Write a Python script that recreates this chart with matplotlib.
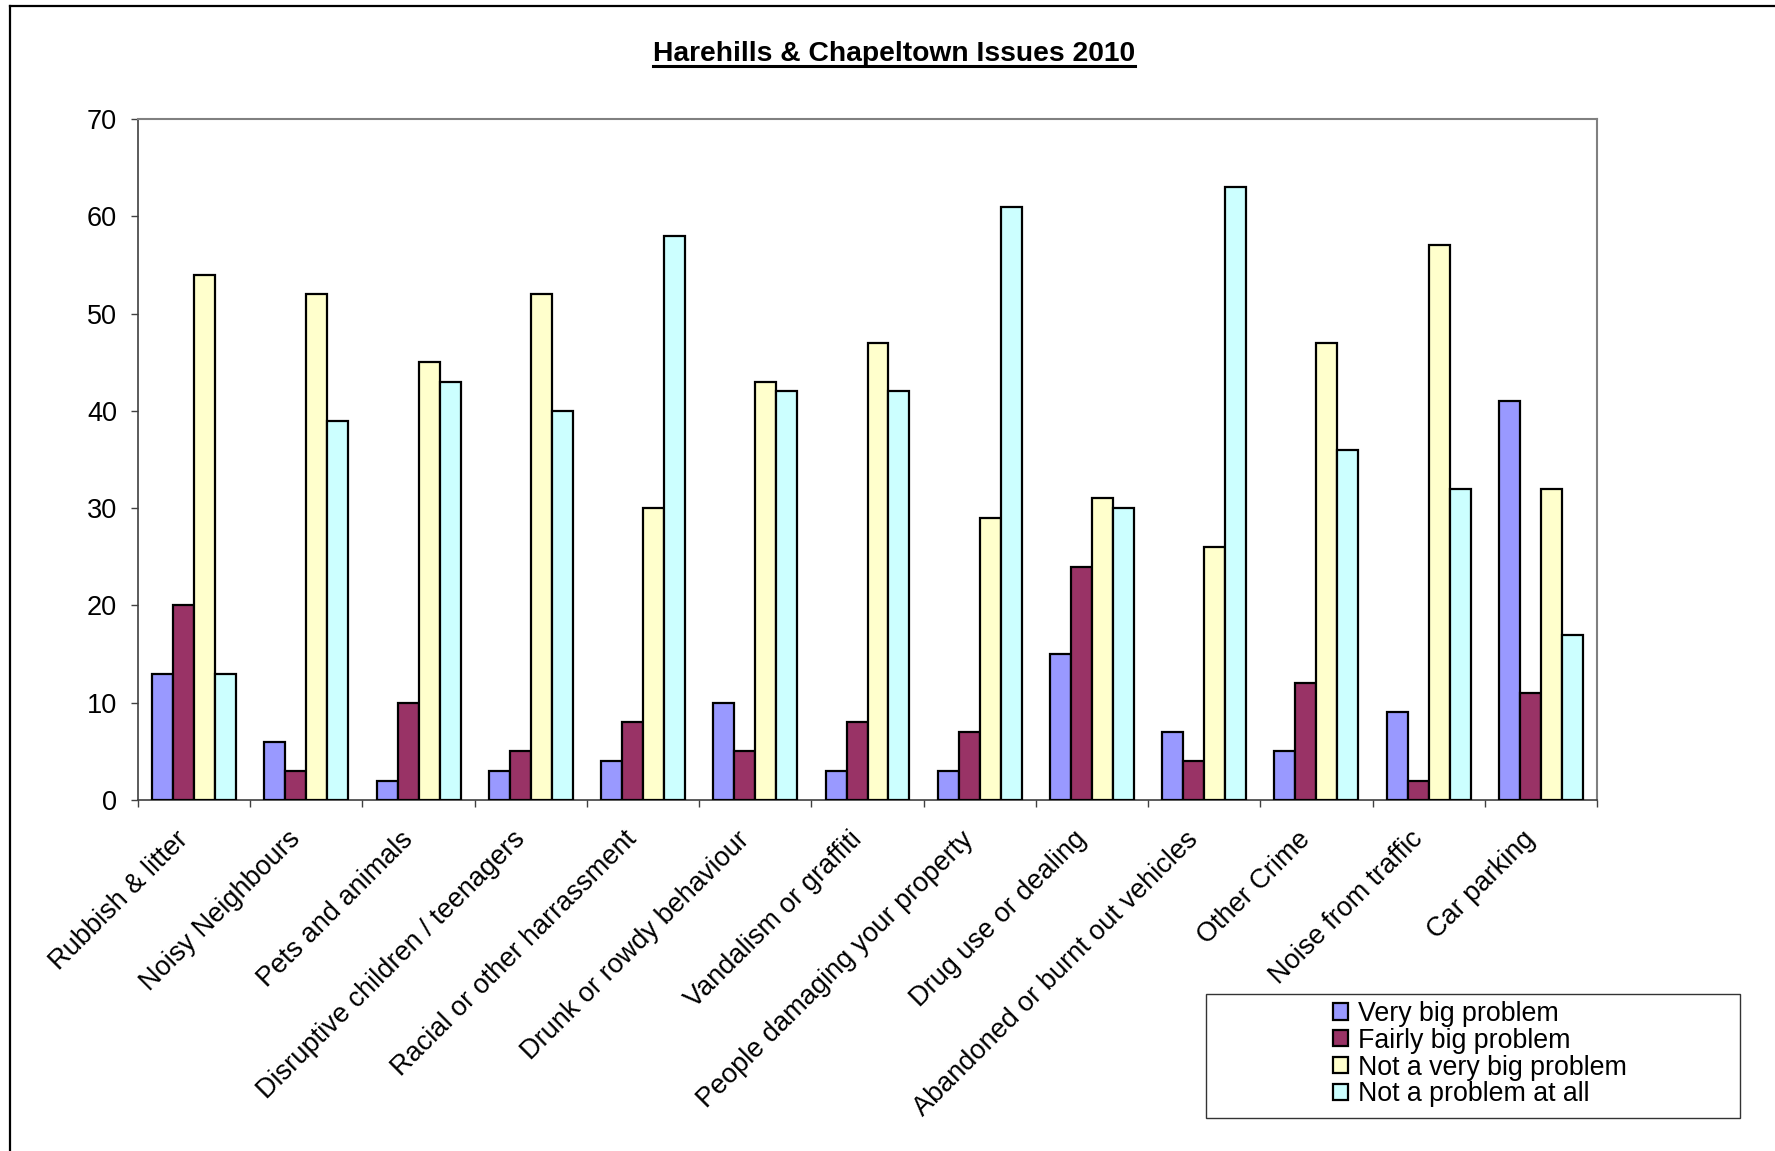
import numpy as np
import matplotlib
matplotlib.use("Agg")
import matplotlib.pyplot as plt
from matplotlib.lines import Line2D
from matplotlib.patches import Rectangle
from matplotlib import transforms

plt.rcParams['font.family'] = ['Liberation Sans', 'DejaVu Sans']

categories = ["Rubbish & litter", "Noisy Neighbours", "Pets and animals",
              "Disruptive children / teenagers", "Racial or other harrassment",
              "Drunk or rowdy behaviour", "Vandalism or graffiti",
              "People damaging your property", "Drug use or dealing",
              "Abandoned or burnt out vehicles", "Other Crime",
              "Noise from traffic", "Car parking"]
series_names = ["Very big problem", "Fairly big problem",
                "Not a very big problem", "Not a problem at all"]
very_big = [13, 6, 2, 3, 4, 10, 3, 3, 15, 7, 5, 9, 41]
fairly_big = [20, 3, 10, 5, 8, 5, 8, 7, 24, 4, 12, 2, 11]
not_very_big = [54, 52, 45, 52, 30, 43, 47, 29, 31, 26, 47, 57, 32]
not_at_all = [13, 39, 43, 40, 58, 42, 42, 61, 30, 63, 36, 32, 17]
colors = ["#9999FF", "#993366", "#FFFFCC", "#CCFFFF"]
title = "Harehills & Chapeltown Issues 2010"

W, H = 1775, 1151
fig = plt.figure(figsize=(W / 100, H / 100), dpi=100)
ax = fig.add_axes([138 / W, 1 - 800 / H, (1597 - 138) / W, (800 - 119) / H])

x = np.arange(len(categories)) + 0.5
bw = 0.187
handles = []
for i, (vals, c) in enumerate(zip([very_big, fairly_big, not_very_big, not_at_all], colors)):
    b = ax.bar(x + (i - 1.5) * bw, vals, bw, color=c, edgecolor="black", linewidth=1.6,
               label=series_names[i], zorder=3)
    handles.append(b)

ax.set_xlim(0, len(categories))
ax.set_ylim(0, 70)
ax.set_yticks(range(0, 71, 10))
ax.set_xticks(np.arange(len(categories) + 1), minor=False)
ax.set_xticklabels([])
ax.set_xticks(x, minor=True)
ax.set_xticklabels(categories, minor=True, rotation=45, ha="right",
                   rotation_mode="anchor", fontsize=19.5)
ax.tick_params(axis="x", which="major", length=5, width=1, color="#404040", direction="out")
ax.tick_params(axis="x", which="minor", length=0, pad=19)
ax.tick_params(axis="y", length=5, width=1, color="#404040", direction="out",
               labelsize=19.5, pad=10)
offset = transforms.ScaledTranslation(-19 / 100, 0, fig.dpi_scale_trans)
for lbl in ax.get_xticklabels(minor=True):
    lbl.set_transform(lbl.get_transform() + offset)

for s in ["top", "right"]:
    ax.spines[s].set_color("#808080")
    ax.spines[s].set_linewidth(1.5)
for s in ["left", "bottom"]:
    ax.spines[s].set_color("#404040")
    ax.spines[s].set_linewidth(1.2)

# outer chart border (only left and top visible)
fig.add_artist(Line2D([10 / W, 10 / W], [0, 1 - 6 / H], color="black", lw=1.6))
fig.add_artist(Line2D([10 / W, 1], [1 - 6 / H, 1 - 6 / H], color="black", lw=1.6))

# title with underline
t = fig.text(894 / W, 1 - 61 / H, title, ha="center", va="baseline",
             fontsize=20.3, fontweight="bold")
fig.canvas.draw()
bb = t.get_window_extent()
fig.add_artist(Line2D([bb.x0 / W, bb.x1 / W], [1 - 66 / H, 1 - 66 / H],
                      color="black", lw=2.2))

# legend
fig.add_artist(Rectangle((1206 / W, 1 - 1118 / H), (1740 - 1206) / W, (1118 - 994) / H,
                         transform=fig.transFigure, fill=False, edgecolor="#333333", lw=1))
fig.legend(handles=handles, loc="upper left", bbox_to_anchor=(1333 / W, 1 - 1001 / H),
           frameon=False, fontsize=19.3, handlelength=0.55, handleheight=0.55,
           handletextpad=0.38, labelspacing=0.03, borderpad=0, borderaxespad=0)

fig.savefig("out.png", dpi=100)
